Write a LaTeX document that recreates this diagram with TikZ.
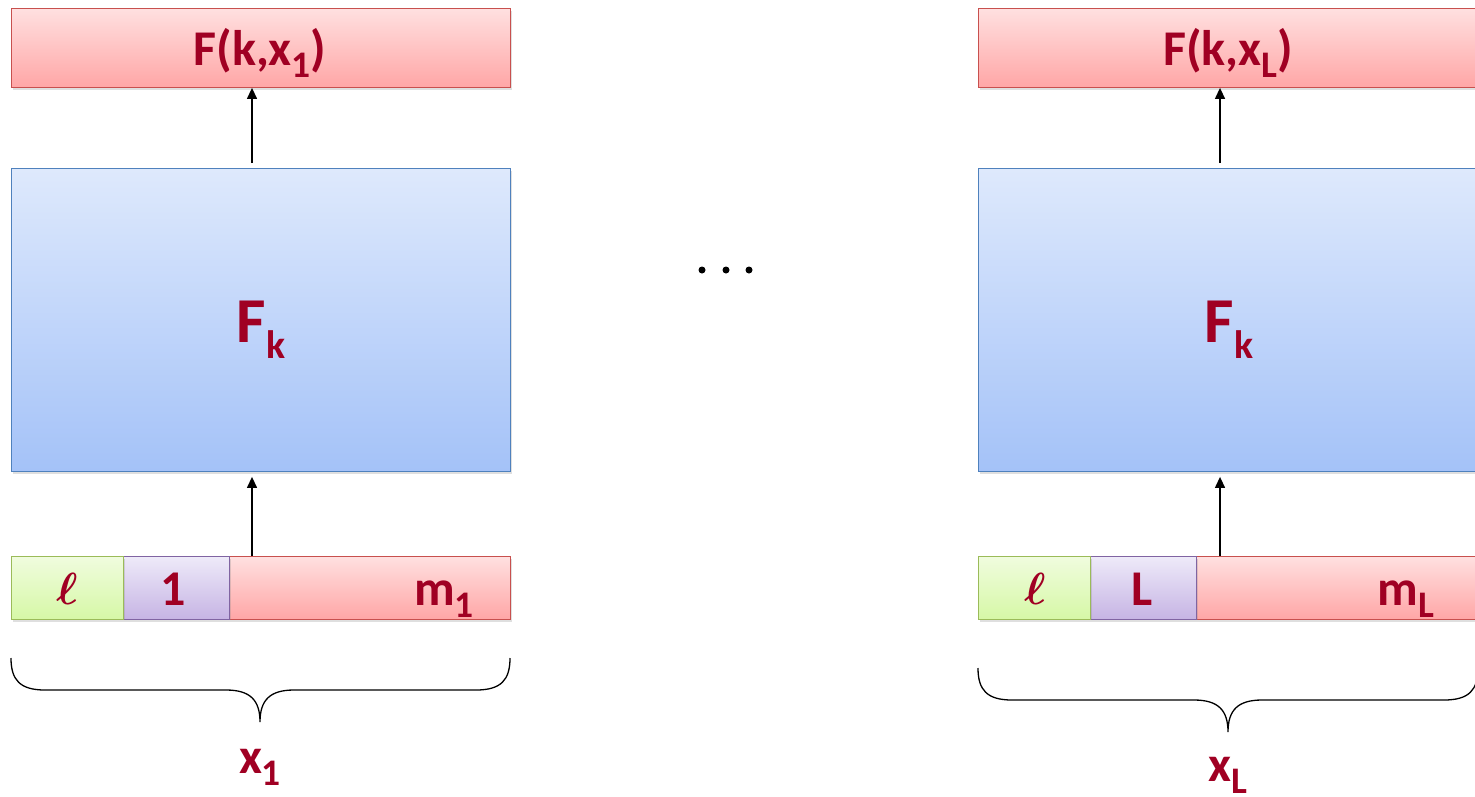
\documentclass[tikz,border=0pt]{standalone}
\usepackage{fontspec}
\setmainfont{Carlito}
\usepackage{amsmath}
\usepackage{graphicx}
\usetikzlibrary{shadows,arrows.meta}

\definecolor{lblred}{RGB}{160,0,35}
\definecolor{redtop}{RGB}{255,224,224}
\definecolor{redbot}{RGB}{255,166,166}
\definecolor{redline}{RGB}{200,80,78}
\definecolor{bluetop}{RGB}{222,233,252}
\definecolor{bluebot}{RGB}{164,194,248}
\definecolor{blueline}{RGB}{79,129,189}
\definecolor{greentop}{RGB}{240,252,222}
\definecolor{greenbot}{RGB}{214,248,166}
\definecolor{greenline}{RGB}{155,187,89}
\definecolor{purptop}{RGB}{238,234,249}
\definecolor{purpbot}{RGB}{198,180,228}
\definecolor{purpline}{RGB}{128,100,162}

% lowered, reduced subscript in the style of the label font
\newcommand\lowsub[2][0.75]{\raisebox{-0.25em}{\scalebox{#1}{#2}}}
% bold script ell, enlarged from the math font
\newcommand\boldell{\scalebox{4.5}{\normalsize$\boldsymbol{\ell}$}}

\begin{document}
\begin{tikzpicture}[x=1pt,y=-1pt,
  box/.style={draw, line width=0.9pt, inner sep=0pt, anchor=north west,
    drop shadow={shadow xshift=1.5pt, shadow yshift=-2.5pt, opacity=0.25}},
  redbox/.style={box, draw=redline, top color=redtop, bottom color=redbot},
  bluebox/.style={box, draw=blueline, top color=bluetop, bottom color=bluebot},
  greenbox/.style={box, draw=greenline, top color=greentop, bottom color=greenbot},
  purpbox/.style={box, draw=purpline, top color=purptop, bottom color=purpbot},
  lbl/.style={text=lblred, font=\bfseries\fontsize{50}{60}\selectfont, anchor=base, inner sep=0pt},
  biglbl/.style={lbl, font=\bfseries\fontsize{64}{72}\selectfont},
  link/.style={-{Triangle[width=10pt,length=11pt]}, line width=1.3pt},
  brace/.style={line width=1.3pt},
  dot/.style={fill=black, circle, inner sep=0pt, minimum size=7pt}
]
\clip (0,0) rectangle (1475,796);

% ---- first block ----
\node[redbox, minimum width=499pt, minimum height=79pt] (out1) at (11,8) {};
\node[bluebox, minimum width=499pt, minimum height=303pt] (fk1) at (11,168) {};
\node[redbox, minimum width=281pt, minimum height=63pt] (msg1) at (229,556) {};
\node[purpbox, minimum width=106pt, minimum height=63pt] (idx1) at (123,556) {};
\node[greenbox, minimum width=112pt, minimum height=63pt] (len1) at (11,556) {};

\node[lbl] (out1t) at (260,65) {F(k,x\lowsub{1})};
\node[biglbl] (fk1t) at (261,342) {F\lowsub[0.62]{k}};
\node[lbl] (len1t) at (67,604) {\boldell};
\node[lbl] (idx1t) at (173,605) {1};
\node[lbl] (msg1t) at (444,605) {m\lowsub{1}};
\node[lbl] (x1t) at (260,773) {x\lowsub{1}};

\coordinate (ax1) at (252,0);
\draw[link, shorten <=5pt] (fk1.north -| ax1) -- (out1.south -| ax1);
\draw[link, shorten >=5pt] (msg1.north -| ax1) -- (fk1.south -| ax1);

\draw[brace] (11,658) .. controls (11,680) and (20,690) .. (45,690) -- (226,690)
  .. controls (250,690) and (260,700) .. (260,722)
  .. controls (260,700) and (270,690) .. (294,690) -- (476,690)
  .. controls (501,690) and (510,680) .. (510,658);

% ---- ellipsis ----
\node[dot] (d1) at (702,270) {};
\node[dot] (d2) at (726,270) {};
\node[dot] (d3) at (749,270) {};

% ---- last block ----
\node[redbox, minimum width=499pt, minimum height=79pt] (outL) at (978,8) {};
\node[bluebox, minimum width=499pt, minimum height=303pt] (fkL) at (978,168) {};
\node[redbox, minimum width=281pt, minimum height=63pt] (msgL) at (1196,556) {};
\node[purpbox, minimum width=106pt, minimum height=63pt] (idxL) at (1090,556) {};
\node[greenbox, minimum width=112pt, minimum height=63pt] (lenL) at (978,556) {};

\node[lbl] (outLt) at (1228,65) {F(k,x\lowsub{L})};
\node[biglbl] (fkLt) at (1229,342) {F\lowsub[0.62]{k}};
\node[lbl] (lenLt) at (1035,604) {\boldell};
\node[lbl] (idxLt) at (1142,605) {L};
\node[lbl] (msgLt) at (1406,605) {m\lowsub{L}};
\node[lbl] (xLt) at (1228,781) {x\lowsub{L}};

\coordinate (axL) at (1220,0);
\draw[link, shorten <=5pt] (fkL.north -| axL) -- (outL.south -| axL);
\draw[link, shorten >=5pt] (msgL.north -| axL) -- (fkL.south -| axL);

\draw[brace] (978,668) .. controls (978,690) and (987,700) .. (1012,700) -- (1194,700)
  .. controls (1218,700) and (1228,710) .. (1228,732)
  .. controls (1228,710) and (1238,700) .. (1262,700) -- (1444,700)
  .. controls (1469,700) and (1478,690) .. (1478,668);
\end{tikzpicture}
\end{document}
